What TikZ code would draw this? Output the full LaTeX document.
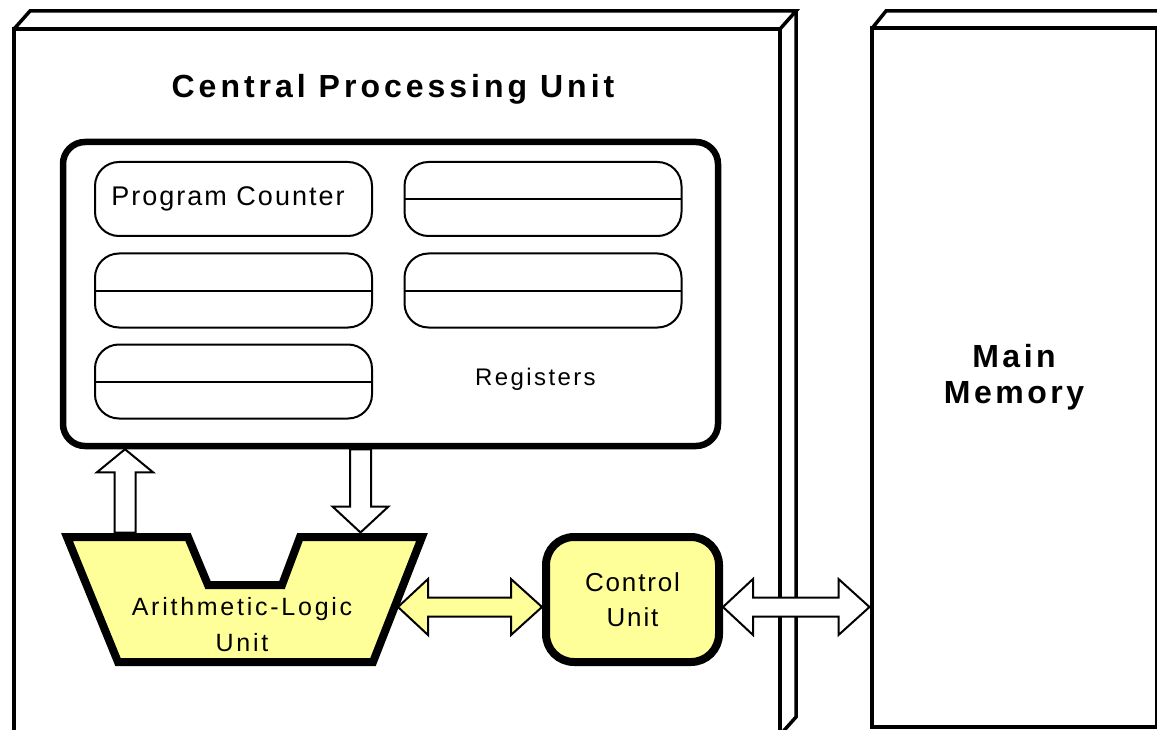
\documentclass[tikz,border=0pt]{standalone}
\usepackage{fontspec}
\setmainfont{Liberation Sans}
\usetikzlibrary{calc}
\definecolor{unityellow}{HTML}{FFFF99}
\newcommand\lsfont[3]{\fontsize{#1pt}{#2pt}\selectfont\addfontfeature{LetterSpace=#3}}
% horizontal double block arrow from left tip #1 to right tip #2, fill #3
\newcommand\hdarrow[3]{%
  \draw[barrow, fill=#3] let \p1=(#1), \p2=(#2) in
   (\x1,\y1) -- (\x1+30pt,\y1+28pt) -- (\x1+30pt,\y1+9.5pt) -- (\x2-31pt,\y1+9.5pt)
   -- (\x2-31pt,\y1+28pt) -- (\x2,\y1) -- (\x2-31pt,\y1-28pt) -- (\x2-31pt,\y1-9.5pt)
   -- (\x1+30pt,\y1-9.5pt) -- (\x1+30pt,\y1-28pt) -- cycle;}
% vertical single block arrow from tail #1 to tip #2, head base offset #3 (paper units)
\newcommand\vbarrow[3]{%
  \draw[barrow, fill=white] let \p1=(#1), \p2=(#2), \n1={\y2+#3} in
   (\x1-10.5pt,\y1) -- (\x1-10.5pt,\n1) -- (\x1-28pt,\n1) -- (\x2,\y2)
   -- (\x1+28pt,\n1) -- (\x1+10.5pt,\n1) -- (\x1+10.5pt,\y1) -- cycle;}
\begin{document}
\begin{tikzpicture}[x=1pt,y=-1pt,
  barrow/.style={draw, line width=2pt, line join=miter},
  regbox/.style={draw, line width=2pt, rounded corners=24pt, minimum width=277pt,
                 minimum height=74pt, inner sep=0pt, outer sep=0pt},
  unitbox/.style={draw, line width=8pt, fill=unityellow, rounded corners=28pt},
  frame/.style={line width=4pt, line join=miter},
]
\useasboundingbox (0,0) rectangle (1157,730);
\clip (0,0) rectangle (1157,730);
% CPU frame (3D box)
\draw[frame] (14,745) -- (14,29) -- (780,29) -- (780,745);
\draw[frame, line width=3.5pt] (14,29) -- (30,11) -- (796,11) -- (780,29);
\draw[frame, line width=3.5pt] (796,11) -- (796,717) -- (780,735);
\node[font=\bfseries\lsfont{32}{36}{12.5}, anchor=base] (title) at (393,98) {Central Processing Unit};
% Main memory (3D box)
\node[draw, line width=4pt, minimum width=285pt, minimum height=699pt, align=center,
      font=\bfseries\lsfont{32}{36}{11}] (mem) at (1014,377.5) {Main\\Memory};
\draw[frame, line width=3.5pt] (871.5,29) -- (886,11) -- (1175,11);
% Registers
\node[draw, line width=6.5pt, rounded corners=22pt, minimum width=655pt,
      minimum height=304pt, fill=white] (regs) at (390.5,294) {};
\node[regbox] (pc) at (233.5,199) {};
\node[font=\lsfont{27}{30}{7.5}, anchor=base] (pclabel) at (228,206) {Program Counter};
\node[regbox] (r1) at (543,199) {};
\draw[line width=2pt] (r1.west) -- (r1.east);
\node[regbox] (l2) at (233.5,290.5) {};
\draw[line width=2pt] (l2.west) -- (l2.east);
\node[regbox] (r2) at (543,290.5) {};
\draw[line width=2pt] (r2.west) -- (r2.east);
\node[regbox] (l3) at (233.5,381.5) {};
\draw[line width=2pt] (l3.west) -- (l3.east);
\node[font=\lsfont{24}{28}{10}, anchor=base] (reglabel) at (535.5,385) {Registers};
% ALU
\draw[line width=8pt, fill=unityellow, line join=miter]
  (67,537) -- (188,537) -- (208,585) -- (282,585) -- (300,537) -- (422,537)
  -- (373,662) -- (118,662) -- cycle;
\node[align=center, font=\lsfont{25}{36}{11}] (alu) at (242,625) {Arithmetic-Logic\\Unit};
\coordinate (alutop) at (0,532.5);
\coordinate (aluright) at (398,607);
% Control unit
\node[unitbox, minimum width=173pt, minimum height=125pt, align=center,
      font=\lsfont{26}{35}{7}] (cu) at (632.5,599.5) {Control\\Unit};
% Connectors
\coordinate (upx) at (125,0);
\coordinate (dnx) at (360.5,0);
\coordinate (arrowrow) at (0,607);
\vbarrow{upx |- alutop}{upx |- regs.south}{-23pt}
\vbarrow{dnx |- regs.south}{dnx |- alutop}{26pt}
\hdarrow{aluright}{cu.west |- arrowrow}{unityellow}
\hdarrow{cu.east |- arrowrow}{mem.west |- arrowrow}{white}
\end{tikzpicture}
\end{document}
